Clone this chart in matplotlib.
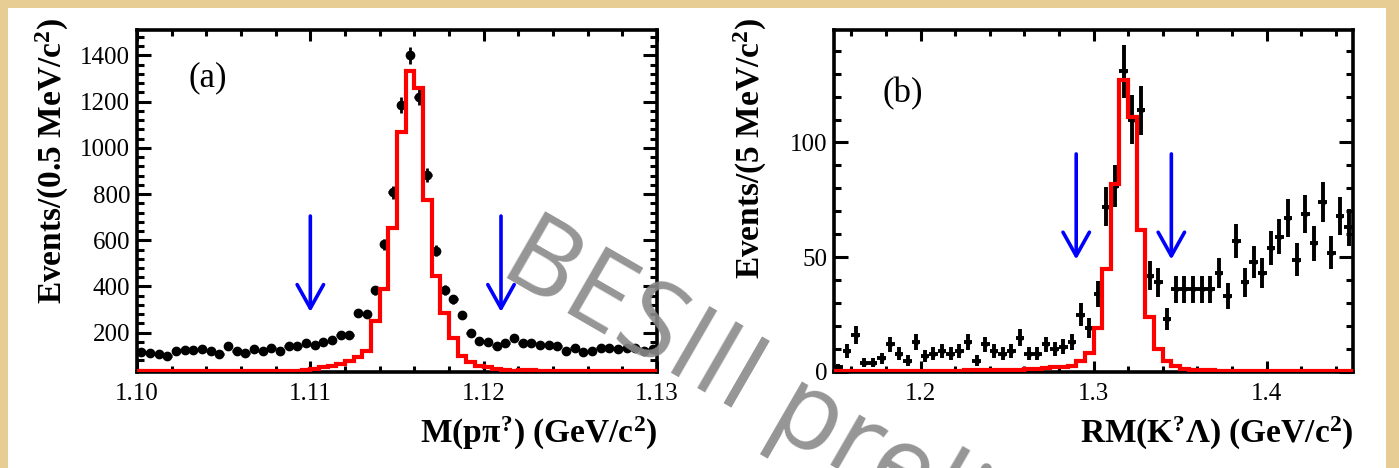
import numpy as np
import matplotlib
matplotlib.use('Agg')
import matplotlib.pyplot as plt
from matplotlib.patches import Rectangle
from matplotlib.ticker import MultipleLocator, FormatStrFormatter

plt.rcParams['font.family'] = ['Liberation Serif', 'DejaVu Serif']
plt.rcParams['mathtext.fontset'] = 'custom'
plt.rcParams['mathtext.rm'] = 'Liberation Serif:bold'
plt.rcParams['mathtext.it'] = 'Liberation Serif:bold'
plt.rcParams['mathtext.bf'] = 'Liberation Serif:bold'

# ---- panel (a): M(p pi) , 0.5 MeV bins from 1.10 to 1.13
a_edges = np.linspace(1.10, 1.13, 61)
a_data = [118, 113, 110, 99, 120, 125, 125, 128, 120, 109,
          142, 120, 113, 131, 120, 135, 120, 142, 142, 157,
          149, 161, 168, 188, 188, 287, 282, 384, 583, 807,
          1186, 1400, 1222, 883, 554, 385, 345, 275, 200, 164,
          161, 142, 157, 178, 154, 154, 145, 147, 142, 123,
          135, 118, 123, 132, 135, 128, 132, 135, 120, 128]
a_mc = [0, 0, 0, 0, 0, 0, 0, 0, 0, 0,
        0, 0, 0, 0, 0, 0, 0, 33, 36, 40,
        44, 50, 56, 64, 78, 95, 120, 252, 390, 651,
        1068, 1331, 1260, 776, 446, 285, 175, 100, 75, 57,
        50, 45, 40, 36, 38, 40, 20, 20, 20, 20,
        20, 20, 20, 20, 20, 20, 20, 20, 20, 20]
a_arrows = [1.110, 1.121]
a_arrow_range = (705, 290)

# ---- panel (b): RM(K Lambda), 5 MeV bins from 1.15 to 1.45
b_edges = np.linspace(1.15, 1.45, 61)
b_data = [2, 9, 16, 4, 4, 6, 12, 8, 5, 13,
          7, 8, 9, 8, 9, 13, 5, 12, 9, 8,
          9, 15, 8, 8, 12, 10, 11, 13, 25, 19,
          34, 72, 81, 131, 110, 114, 42, 39, 23, 36,
          36, 36, 36, 36, 43, 33, 57, 39, 48, 43,
          54, 59, 67, 49, 69, 56, 74, 52, 68, 63]
b_mc = [0.3, 0.3, 0.3, 0.3, 0.3, 0.4, 0.4, 0.4, 0.4, 0.5,
        0.5, 0.5, 0.6, 0.6, 0.6, 0.7, 0.7, 0.8, 0.8, 0.9,
        0.9, 1.0, 1.2, 1.5, 1.8, 2.0, 2.3, 2.6, 4.7, 8.4,
        19, 45, 82, 127, 111, 62, 24, 10, 5, 2.5,
        1.5, 1.0, 0.9, 0.8, 0.6, 0.4, 0.4, 0.4, 0.4, 0.4,
        0.4, 0.4, 0.4, 0.4, 0.4, 0.4, 0.4, 0.4, 0.4, 0.4]
b_arrows = [1.290, 1.345]
b_arrow_range = (95, 49)

fig = plt.figure(figsize=(13.99, 4.68), dpi=100)
fig.patch.set_facecolor('#e7cc93')
fig.add_artist(Rectangle((8 / 1399, 0), 1378 / 1399, 460 / 468, transform=fig.transFigure,
                         facecolor='white', edgecolor='none', zorder=-5))


def draw_panel(ax, edges, data, mc, xlim, ylim, arrows, arrow_range, ms, elw):
    centers = 0.5 * (edges[:-1] + edges[1:])
    half = 0.5 * (edges[1] - edges[0])
    data = np.array(data, dtype=float)
    ax.errorbar(centers, data, yerr=np.sqrt(data), xerr=half, fmt='o', color='black',
                ms=ms, elinewidth=elw, capsize=0, zorder=3)
    # like ROOT, bins below the axis minimum are drawn along the bottom edge
    ax.stairs(np.maximum(mc, ylim[0] + 0.004 * (ylim[1] - ylim[0])), edges,
              color='red', lw=3.0, zorder=4)
    for xa in arrows:
        ax.annotate('', xy=(xa, arrow_range[1]), xytext=(xa, arrow_range[0]),
                    arrowprops=dict(arrowstyle='->,head_length=1.7,head_width=0.95',
                                    color='blue', lw=2.6, shrinkA=0, shrinkB=0,
                                    mutation_scale=10), zorder=5)
    ax.set_xlim(*xlim)
    ax.set_ylim(*ylim)
    for s in ax.spines.values():
        s.set_linewidth(2.6)
    ax.tick_params(which='both', direction='in', top=True, right=True, width=2.2,
                   labelsize=18)
    ax.tick_params(axis='x', which='major', length=8, pad=8)
    ax.tick_params(axis='x', which='minor', length=4)
    ax.tick_params(axis='y', which='major', length=10, pad=5)
    ax.tick_params(axis='y', which='minor', length=5)


# panel (a)
ax1 = fig.add_axes([137 / 1399, 1 - 372 / 468, 520 / 1399, 342 / 468])
draw_panel(ax1, a_edges, a_data, a_mc, (1.10, 1.13), (30, 1510), a_arrows, a_arrow_range,
           ms=6, elw=2.0)
ax1.xaxis.set_major_locator(MultipleLocator(0.01))
ax1.xaxis.set_minor_locator(MultipleLocator(0.002))
ax1.xaxis.set_major_formatter(FormatStrFormatter('%.2f'))
ax1.yaxis.set_major_locator(MultipleLocator(200))
ax1.yaxis.set_minor_locator(MultipleLocator(40))
ax1.text(0.10, 0.86, '(a)', transform=ax1.transAxes, fontsize=25, va='center')
ax1.text(-0.162, 1.035, r'Events/(0.5 MeV/c$^{2}$)', transform=ax1.transAxes, rotation=90,
         ha='center', va='top', fontsize=24, fontweight='bold')
ax1.text(1.0, -0.18, r'M(p$\pi^{?}$) (GeV/c$^{2}$)', transform=ax1.transAxes,
         ha='right', va='center', fontsize=24, fontweight='bold')

# panel (b)
ax2 = fig.add_axes([834 / 1399, 1 - 372 / 468, 519 / 1399, 342 / 468])
draw_panel(ax2, b_edges, b_data, b_mc, (1.15, 1.45), (0, 149), b_arrows, b_arrow_range,
           ms=3, elw=2.8)
ax2.xaxis.set_major_locator(MultipleLocator(0.1))
ax2.xaxis.set_minor_locator(MultipleLocator(0.02))
ax2.xaxis.set_major_formatter(FormatStrFormatter('%.1f'))
ax2.yaxis.set_major_locator(MultipleLocator(50))
ax2.yaxis.set_minor_locator(MultipleLocator(10))
ax2.text(0.094, 0.813, '(b)', transform=ax2.transAxes, fontsize=25, va='center')
ax2.text(-0.16, 1.035, r'Events/(5 MeV/c$^{2}$)', transform=ax2.transAxes, rotation=90,
         ha='center', va='top', fontsize=24, fontweight='bold')
ax2.text(1.0, -0.18, r'RM(K$^{?}$Λ) (GeV/c$^{2}$)', transform=ax2.transAxes,
         ha='right', va='center', fontsize=24, fontweight='bold')

# watermark
fig.text(497 / 1399, 1 - 272 / 468, 'BESIII preliminary', rotation=-30, rotation_mode='anchor',
         ha='left', va='baseline', fontsize=78, color='#8a8a8a', alpha=0.9,
         family=['Open Sans', 'DejaVu Sans'], zorder=10)

fig.savefig('out.png', dpi=100, facecolor=fig.get_facecolor())
